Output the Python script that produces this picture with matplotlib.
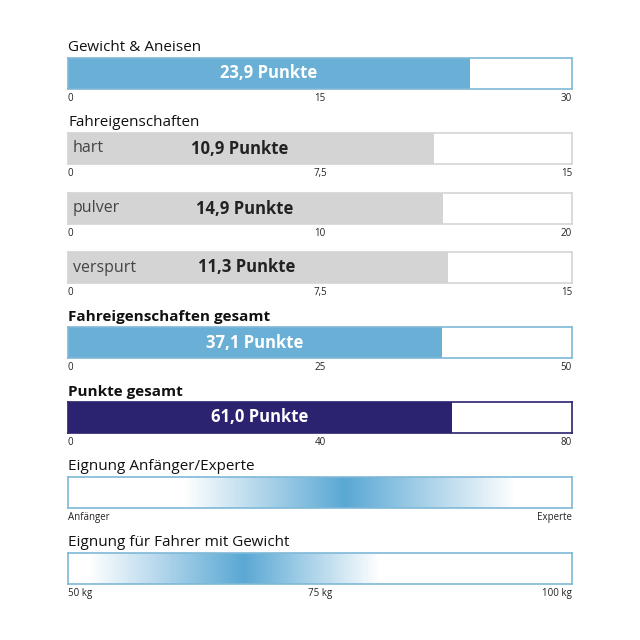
import numpy as np
import matplotlib.pyplot as plt
from matplotlib.colors import LinearSegmentedColormap

plt.rcParams["font.family"] = "Open Sans"

# ── Daten ──
titles = ["Gewicht & Aneisen", "Fahreigenschaften", None, None,
          "Fahreigenschaften gesamt", "Punkte gesamt"]
bold_title = [False, False, False, False, True, True]
inner_labels = [None, "hart", "pulver", "verspurt", None, None]
values = [23.9, 10.9, 14.9, 11.3, 37.1, 61.0]
maxima = [30, 15, 20, 15, 50, 80]
tick_labels = [["0", "15", "30"], ["0", "7,5", "15"], ["0", "10", "20"],
               ["0", "7,5", "15"], ["0", "25", "50"], ["0", "40", "80"]]
kinds = ["blue", "gray", "gray", "gray", "blue", "navy"]

grad_titles = ["Eignung Anfänger/Experte", "Eignung für Fahrer mit Gewicht"]
grad_ranges = [(0, 1), (50, 100)]
grad_start = [0.23, 52]
grad_peak = [0.55, 67.4]
grad_end = [0.89, 81]
grad_ticks = [[(0, "Anfänger"), (1, "Experte")],
              [(50, "50 kg"), (75, "75 kg"), (100, "100 kg")]]

colors = {"blue": "#6aafd6", "gray": "#d4d4d4", "navy": "#2b2270"}
border = {"blue": "#7fb8d8", "gray": "#d4d4d4", "navy": "#2b2270"}
W, H = 640, 640
X0, X1 = 68, 572

# Pixel-Layout (Oberkante Balken)
bar_tops = [58, 133, 193, 252, 327, 402]
grad_tops = [477, 553]
BH = 31

fig = plt.figure(figsize=(6.4, 6.4), dpi=100)


def make_ax(top):
    return fig.add_axes([X0 / W, 1 - (top + BH) / H, (X1 - X0) / W, BH / H])


for i, v in enumerate(values):
    ax = make_ax(bar_tops[i])
    ax.set_xlim(0, maxima[i])
    ax.set_ylim(0, 1)
    ax.barh(0.5, v, height=1, color=colors[kinds[i]], left=0)
    for s in ax.spines.values():
        s.set_color(border[kinds[i]])
        s.set_linewidth(1.2)
    ax.set_yticks([])
    ax.set_xticks([0, maxima[i] / 2, maxima[i]])
    ax.set_xticklabels(tick_labels[i], fontsize=7, color="#222222")
    for lbl, ha in zip(ax.get_xticklabels(), ["left", "center", "right"]):
        lbl.set_ha(ha)
    ax.tick_params(axis="x", length=0, pad=3)
    txt = f"{v:.1f}".replace(".", ",") + " Punkte"
    if kinds[i] == "gray":
        ax.text(0.01 * maxima[i], 0.5, inner_labels[i], ha="left", va="center",
                fontsize=11.5, color="#444444")
        ax.text(v * 0.47, 0.5, txt, ha="center", va="center", fontsize=12,
                fontweight="bold", color="#222222")
    else:
        ax.text(v / 2, 0.5, txt, ha="center", va="center", fontsize=12,
                fontweight="bold", color="white")
    if titles[i]:
        ax.text(0, 1.1, titles[i], transform=ax.transAxes, ha="left", va="bottom",
                fontsize=11, fontweight="bold" if bold_title[i] else "normal",
                color="#111111")

cmap = LinearSegmentedColormap.from_list("g", ["#ffffff", "#5aa8d4", "#ffffff"])
for i in range(2):
    ax = make_ax(grad_tops[i])
    lo, hi = grad_ranges[i]
    ax.set_xlim(lo, hi)
    ax.set_ylim(0, 1)
    xs = np.linspace(lo, hi, 600)
    s, p, e = grad_start[i], grad_peak[i], grad_end[i]
    t = np.where(xs < p, (xs - s) / (p - s), 1 + (xs - p) / (e - p))
    t = np.clip(t, 0, 2) / 2
    ax.imshow(t[None, :], cmap=cmap, vmin=0, vmax=1, aspect="auto",
              extent=[lo, hi, 0, 1])
    for sp in ax.spines.values():
        sp.set_color("#7fb8d8")
        sp.set_linewidth(1.2)
    ax.set_yticks([])
    pos = [p_ for p_, _ in grad_ticks[i]]
    ax.set_xticks(pos)
    ax.set_xticklabels([l for _, l in grad_ticks[i]], fontsize=7, color="#222222")
    has = ["left", "center", "right"] if len(pos) == 3 else ["left", "right"]
    for lbl, ha in zip(ax.get_xticklabels(), has):
        lbl.set_ha(ha)
    ax.tick_params(axis="x", length=0, pad=3)
    ax.text(0, 1.1, grad_titles[i], transform=ax.transAxes, ha="left", va="bottom",
            fontsize=11, color="#111111")

fig.savefig("out.png", dpi=100, facecolor="white")
